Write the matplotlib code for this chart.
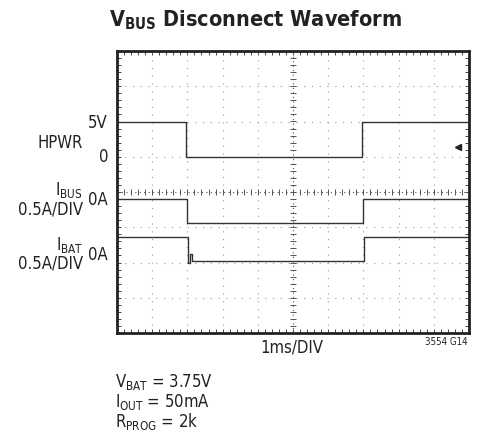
import numpy as np
import matplotlib
matplotlib.use("Agg")
import matplotlib.pyplot as plt

plt.rcParams["font.family"] = ["DejaVu Sans"]
plt.rcParams["font.stretch"] = "condensed"
plt.rcParams["mathtext.default"] = "regular"

# waveform data in scope divisions (x: ms, y: div from bottom)
t_hpwr = [0, 1.97, 1.97, 6.97, 6.97, 10]
v_hpwr = [6.0, 6.0, 5.0, 5.0, 6.0, 6.0]

t_ibus = [0, 1.99, 1.99, 7.0, 7.0, 10]
v_ibus = [3.8, 3.8, 3.12, 3.12, 3.8, 3.8]

t_ibat = [0, 2.02, 2.02, 2.08, 2.08, 2.12, 2.12, 7.02, 7.02, 10]
v_ibat = [2.73, 2.73, 2.0, 2.0, 2.24, 2.24, 2.03, 2.03, 2.73, 2.73]

conditions = [r"$V_{BAT}$ = 3.75V", r"$I_{OUT}$ = 50mA", r"$R_{PROG}$ = 2k"]

W, H = 487, 434
fig = plt.figure(figsize=(W / 100, H / 100), dpi=100)
ax = fig.add_axes([117 / W, (H - 333) / H, 352 / W, 282 / H])
ax.set_xlim(0, 10)
ax.set_ylim(0, 8)

grid_col = "#999999"
for x in range(1, 10):
    if x != 5:
        ax.axvline(x, color=grid_col, lw=0.8, ls=(0, (1, 6)))
for y in range(1, 8):
    if y != 4:
        ax.axhline(y, color=grid_col, lw=0.8, ls=(0, (1, 6)))
# centre crosshair with minor ticks
ax.axvline(5, color="#555555", lw=0.8, ls=(0, (1, 3)))
ax.axhline(4, color="#555555", lw=0.8, ls=(0, (1, 3)))
mt_x = np.arange(0.2, 10, 0.2)
mt_y = np.arange(0.2, 8, 0.2)
ax.plot(mt_x, np.full_like(mt_x, 4), "|", color="#555555", ms=4, mew=0.7)
ax.plot(np.full_like(mt_y, 5), mt_y, "_", color="#555555", ms=4, mew=0.7)

ax.plot(t_hpwr, v_hpwr, color="#333333", lw=1.0)
ax.plot(t_ibus, v_ibus, color="#333333", lw=1.0)
ax.plot(t_ibat, v_ibat, color="#333333", lw=1.0)

# trigger marker
ax.plot([9.7], [5.28], marker="<", color="#222222", ms=4)

ax.set_xticks(np.arange(0, 10.01, 0.2), minor=True)
ax.set_yticks(np.arange(0, 8.01, 0.2), minor=True)
ax.set_xticks([])
ax.set_yticks([])
ax.tick_params(which="minor", direction="in", length=3, width=0.7, color="#444444",
               top=True, right=True, labelbottom=False, labelleft=False)
for s in ax.spines.values():
    s.set_linewidth(2.0)
    s.set_color("#222222")

def px(x, y):
    return x / W, 1 - y / H

txt = dict(color="#222222")
fig.text(*px(255, 20), r"$V_{BUS}$ Disconnect Waveform", ha="center", va="center",
         fontsize=15.5, fontweight="bold", **txt)
fig.text(*px(108, 123), "5V", ha="right", va="center", fontsize=12, **txt)
fig.text(*px(83, 143), "HPWR", ha="right", va="center", fontsize=12, **txt)
fig.text(*px(108, 157), "0", ha="right", va="center", fontsize=12, **txt)
fig.text(*px(83, 190), r"$I_{BUS}$", ha="right", va="center", fontsize=12, **txt)
fig.text(*px(83, 209), "0.5A/DIV", ha="right", va="center", fontsize=12, **txt)
fig.text(*px(108, 200), "0A", ha="right", va="center", fontsize=12, **txt)
fig.text(*px(83, 245), r"$I_{BAT}$", ha="right", va="center", fontsize=12, **txt)
fig.text(*px(83, 264), "0.5A/DIV", ha="right", va="center", fontsize=12, **txt)
fig.text(*px(108, 255), "0A", ha="right", va="center", fontsize=12, **txt)
fig.text(*px(292, 348), "1ms/DIV", ha="center", va="center", fontsize=12, **txt)
fig.text(*px(468, 342), "3554 G14", ha="right", va="center", fontsize=7, **txt)
for i, c in enumerate(conditions):
    fig.text(*px(115, 382 + 20 * i), c, ha="left", va="center", fontsize=12, **txt)

fig.savefig("out.png", dpi=100)
